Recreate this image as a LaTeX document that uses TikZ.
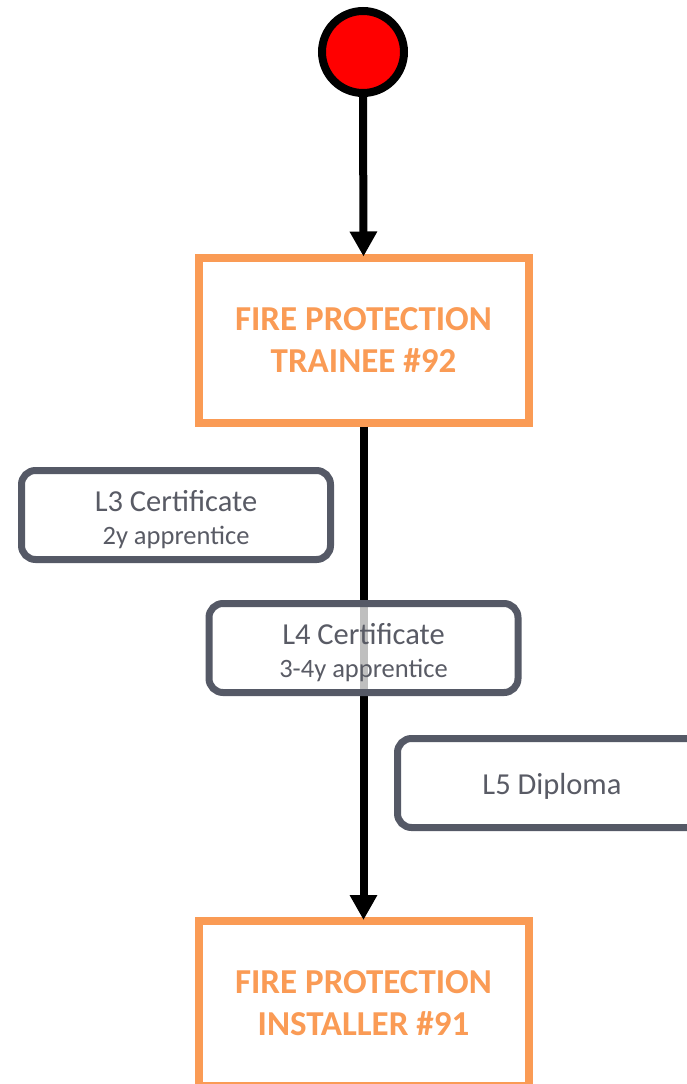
\documentclass[tikz,border=0pt]{standalone}
\usepackage{fontspec}
\setmainfont{Carlito}
\usetikzlibrary{arrows.meta}
\definecolor{fireorange}{RGB}{250,155,85}
\definecolor{slategrey}{RGB}{85,89,102}
\definecolor{labelgrey}{RGB}{89,91,101}

\begin{document}
\begin{tikzpicture}[x=1pt,y=-1pt,
  startdot/.style={circle, draw=black, fill=red, line width=8pt, minimum size=82pt, inner sep=0pt},
  rolebox/.style={draw=fireorange, line width=8pt, fill=white, minimum width=330pt,
    minimum height=165pt, inner sep=0pt, align=center, text=fireorange,
    font=\fontsize{35}{42}\selectfont\bfseries},
  qualbox/.style={draw=slategrey, line width=7pt, rounded corners=14pt, fill=white,
    minimum width=309pt, minimum height=89pt, inner sep=0pt, align=center, text=labelgrey,
    font=\fontsize{26.5}{28}\selectfont},
  flow/.style={line width=8pt, -{Triangle[width=26pt,length=25pt]}},
]
\clip (0,0) rectangle (687,1084);

% start state and the two roles
\node[startdot] (start) at (363,52) {};
\node[rolebox] (trainee) at (363.5,340) {FIRE PROTECTION\\TRAINEE \#92};
\node[rolebox] (installer) at (363.5,1003.5) {FIRE PROTECTION\\INSTALLER \#91};

% qualification off to the side
\node[qualbox] (lthree) at (176,515)
  {{\fontsize{30.5}{30}\selectfont\rule{0pt}{31pt}L3 Certificate}\\[5pt]2y apprentice};

% progression arrows
\draw[flow] (start.south) -- ([yshift=-3pt]trainee.north);
\draw[flow] (trainee.south) -- ([yshift=-3pt]installer.north);

% qualifications along the path (semi-transparent fill lets the path show through)
\node[qualbox, fill opacity=0.75, text opacity=1] (lfour) at (363.5,648)
  {{\fontsize{30.5}{30}\selectfont\rule{0pt}{31pt}L4 Certificate}\\[5pt]3-4y apprentice};
\node[qualbox] (lfive) at (552,783)
  {{\fontsize{30.5}{30}\selectfont\rule{0pt}{28pt}L5 Diploma}};
\end{tikzpicture}
\end{document}
